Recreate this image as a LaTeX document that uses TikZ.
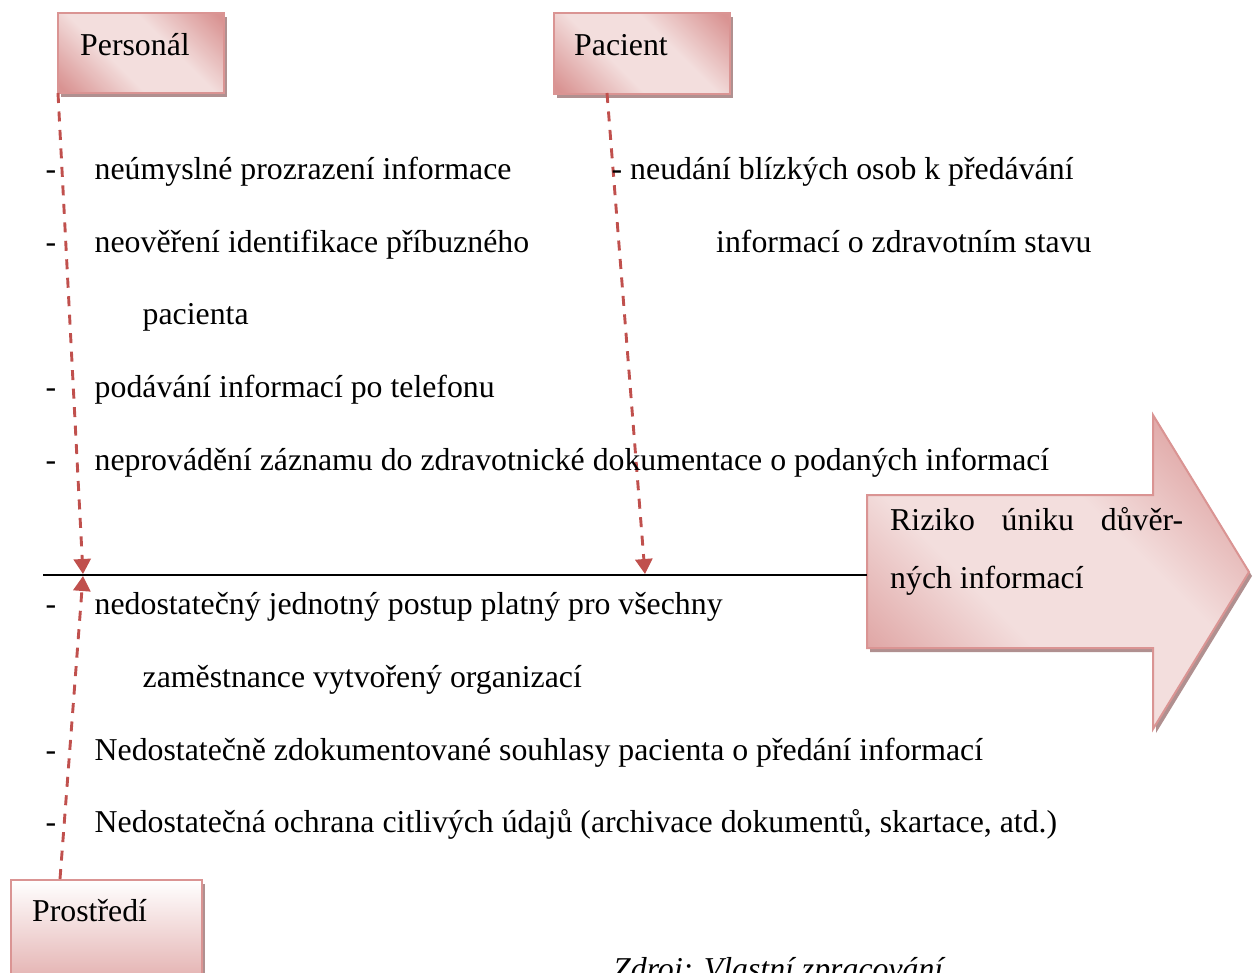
\documentclass[tikz,border=0pt]{standalone}
\usepackage{fontspec}
\setmainfont{Liberation Serif}
\usetikzlibrary{arrows.meta,shadows}

\definecolor{pdark}{RGB}{217,147,146}
\definecolor{plight}{RGB}{243,222,221}
\definecolor{pborder}{RGB}{218,148,147}
\definecolor{pshadow}{RGB}{176,144,144}
\definecolor{lred}{RGB}{192,80,77}

% diagonal pink band used for the box and arrow fills
\pgfdeclarehorizontalshading{pinkband}{100bp}{color(0bp)=(pdark); color(17bp)=(pdark); color(40bp)=(plight); color(60bp)=(plight); color(83bp)=(pdark); color(100bp)=(pdark)}

\tikzset{
  txt/.style={anchor=base west, inner sep=0pt, font=\fontsize{31.8}{38}\selectfont},
  itxt/.style={txt, font=\fontsize{31.8}{38}\selectfont\itshape},
  cause/.style={draw=pborder, line width=2pt, shade, shading=pinkband, shading angle=45,
    anchor=north west, inner sep=0pt,
    drop shadow={shadow xshift=3pt, shadow yshift=-4pt, fill=pshadow, opacity=1}},
  envbox/.style={draw=pborder, line width=2pt, shade, top color=white, bottom color=pdark,
    anchor=north west, inner sep=0pt,
    drop shadow={shadow xshift=3pt, shadow yshift=-4pt, fill=pshadow, opacity=1}},
  effect/.style={draw=pborder, line width=2pt, shade, shading=pinkband, shading angle=45,
    drop shadow={shadow xshift=3pt, shadow yshift=-4pt, fill=pshadow, opacity=1}},
  riskline/.style={draw=lred, line width=2.9pt, dash pattern=on 10pt off 8.5pt,
    -{Triangle[width=17pt,length=15pt]}},
  spine/.style={draw=black, line width=2pt},
}

\begin{document}
\begin{tikzpicture}[x=1pt,y=-1pt]
\useasboundingbox (0,0) rectangle (1255,972);
\clip (0,0) rectangle (1255,972);

% cause boxes
\node[cause, minimum width=166pt, minimum height=80pt] (pers) at (57,12) {};
\node[cause, minimum width=176pt, minimum height=81pt] (pac) at (553,12) {};
\node[envbox, minimum width=191pt, minimum height=140pt] (prost) at (10,879) {};
\node[txt] (persL) at (80,55) {Personál};
\node[txt] (pacL) at (574,55) {Pacient};
\node[txt] (prostL) at (32,921) {Prostředí};

% effect arrow
\path[effect] (867,495) -- (1153,495) -- (1153,415) -- (1249,572) -- (1153,729)
  -- (1153,648) -- (867,648) -- cycle;
\coordinate (tail) at (867,575);
\node[txt] (risk1) at (890,530) {\makebox[293pt][s]{Riziko úniku důvěr-}};
\node[txt] (risk2) at (890,588) {ných informací};

% spine
\coordinate (spineL) at (43,575);
\draw[spine] (spineL) -- (tail);

% cause connectors
\coordinate (persFoot) at (58,93);
\coordinate (pacFoot) at (607,93);
\coordinate (prostHead) at (60,879);
\coordinate (hitL) at (83,574);
\coordinate (hitR) at (645,574);
\coordinate (hitB) at (83,576);
\draw[riskline] (persFoot) -- (hitL);
\draw[riskline] (pacFoot) -- (hitR);
\draw[riskline] (prostHead) -- (hitB);

% personnel and environment items
\node[txt] (d1) at (45.5,179) {-};
\node[txt] (t1) at (94.5,179) {neúmyslné prozrazení informace};
\node[txt] (d2) at (45.5,252) {-};
\node[txt] (t2) at (94.5,252) {neověření identifikace příbuzného};
\node[txt] (t3) at (142.5,324) {pacienta};
\node[txt] (d4) at (45.5,397) {-};
\node[txt] (t4) at (94.5,397) {podávání informací po telefonu};
\node[txt] (d5) at (45.5,470) {-};
\node[txt] (t5) at (94.5,470) {neprovádění záznamu do zdravotnické dokumentace o podaných informací};
\node[txt] (d6) at (45.5,614) {-};
\node[txt] (t6) at (94.5,614) {nedostatečný jednotný postup platný pro všechny};
\node[txt] (t7) at (142.5,687) {zaměstnance vytvořený organizací};
\node[txt] (d8) at (45.5,760) {-};
\node[txt] (t8) at (94.5,760) {Nedostatečně zdokumentované souhlasy pacienta o předání informací};
\node[txt] (d9) at (45.5,832) {-};
\node[txt] (t9) at (94.5,832) {Nedostatečná ochrana citlivých údajů (archivace dokumentů, skartace, atd.)};

% patient items
\node[txt] (r1) at (611.5,179) {- neudání blízkých osob k předávání};
\node[txt] (r2) at (716,252) {informací o zdravotním stavu};

% source
\node[itxt] (src) at (613,979) {Zdroj: Vlastní zpracování};
\end{tikzpicture}
\end{document}
